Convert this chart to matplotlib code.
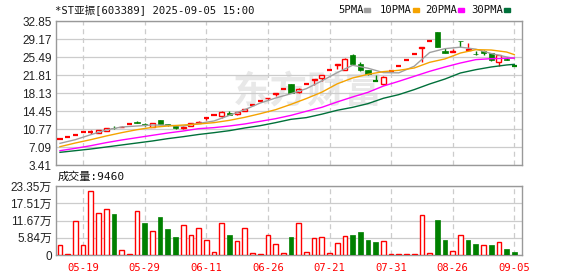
import numpy as np
import matplotlib
matplotlib.use("Agg")
import matplotlib.pyplot as plt

# daily candles, index 0 = 05-14 ... 59 = 09-05
opens = [8.73, 9.17, 9.62, 10.10, 10.10, 9.95, 10.43, 11.05, 11.20, 11.75,
         12.30, 11.80, 11.25, 12.60, 11.70, 11.30, 11.00, 11.38, 12.00, 12.90,
         13.70, 13.40, 14.10, 13.77, 14.38, 15.65, 16.45, 17.05, 18.00, 19.00,
         20.00, 18.25, 19.95, 20.85, 21.20, 22.90, 23.90, 22.90, 26.00, 23.99,
         22.75, 20.70, 19.90, 22.58, 23.72, 24.90, 26.15, 27.40, 28.83, 30.50,
         26.70, 26.60, 28.80, 26.90, 26.10, 26.75, 26.30, 24.40, 25.15, 23.70]
highs = [8.73, 9.17, 9.62, 10.10, 10.50, 10.64, 11.05, 11.45, 11.30, 11.75,
         12.45, 11.90, 12.00, 12.65, 11.80, 11.35, 11.30, 11.95, 12.35, 12.95,
         13.70, 14.45, 14.50, 14.30, 14.95, 15.65, 16.45, 17.20, 18.15, 19.00,
         20.00, 19.10, 19.95, 20.95, 21.85, 22.90, 24.05, 25.20, 26.05, 24.47,
         22.80, 21.75, 21.55, 22.58, 23.72, 24.90, 26.15, 27.46, 28.83, 30.50,
         27.25, 27.15, 28.85, 28.40, 26.70, 26.85, 26.35, 25.85, 25.40, 23.70]
lows = [8.73, 9.17, 9.45, 10.10, 9.70, 9.90, 10.40, 10.70, 11.15, 11.75,
        11.90, 11.40, 11.20, 11.80, 11.30, 10.85, 10.85, 11.35, 11.95, 12.55,
        13.70, 13.10, 13.55, 13.70, 14.35, 15.65, 16.45, 16.60, 17.60, 19.00,
        18.10, 18.20, 19.95, 19.75, 20.60, 22.90, 23.00, 22.80, 23.95, 22.63,
        21.90, 20.60, 19.85, 22.58, 23.72, 24.90, 26.15, 24.55, 28.83, 27.45,
        26.30, 26.55, 27.50, 26.85, 26.00, 25.90, 24.75, 23.75, 24.85, 23.70]
closes = [8.73, 9.17, 9.62, 10.10, 10.10, 10.60, 11.00, 10.95, 11.28, 11.75,
          11.95, 11.55, 11.93, 11.86, 11.50, 10.90, 11.10, 11.93, 12.30, 12.95,
          13.70, 14.25, 13.60, 14.25, 14.90, 15.65, 16.45, 17.15, 18.10, 19.00,
          18.15, 19.05, 19.95, 20.95, 21.80, 22.90, 24.05, 25.15, 24.00, 22.90,
          21.95, 20.65, 21.50, 22.58, 23.72, 24.90, 26.15, 27.46, 28.83, 27.50,
          26.35, 26.75, 28.70, 27.05, 26.03, 26.30, 24.80, 25.80, 24.95, 23.70]
# volume in 万 shares
volumes = [3.3, 0.3, 11.5, 3.3, 21.6, 14.2, 15.4, 14.0, 1.6, 0.2,
           14.9, 10.9, 8.1, 12.9, 8.8, 6.1, 10.1, 6.8, 9.0, 5.1,
           0.9, 10.7, 6.8, 4.7, 9.0, 0.7, 0.3, 6.6, 3.6, 0.7,
           6.1, 10.7, 0.9, 5.6, 6.0, 0.7, 3.9, 6.3, 6.8, 7.8,
           5.1, 4.4, 4.7, 0.2, 0.2, 0.2, 0.2, 13.4, 0.7, 11.8,
           5.1, 1.2, 6.6, 5.1, 3.7, 3.3, 3.4, 4.4, 2.0, 0.946]

# moving averages (every 2nd bar + last)
ma_idx = list(range(0, 60, 2)) + [59]
ma5 = [7.84, 8.59, 9.61, 10.57, 11.18, 11.38, 11.59, 11.52, 11.38, 11.90,
       12.41, 13.56, 14.72, 16.08, 17.10, 17.99, 19.02, 20.60, 22.30, 23.80,
       23.20, 22.30, 22.25, 23.60, 26.40, 27.20, 27.50, 27.10, 26.20, 25.50, 25.20]
ma10 = [7.16, 7.91, 8.59, 9.34, 10.02, 10.63, 11.11, 11.38, 11.59, 11.79,
        12.07, 12.54, 13.16, 13.90, 14.72, 15.81, 17.00, 18.30, 20.00, 21.20,
        21.95, 22.50, 22.77, 23.24, 24.40, 25.10, 26.30, 26.99, 26.92, 26.51, 25.97]
ma20 = [6.34, 6.82, 7.36, 7.98, 8.52, 9.00, 9.48, 9.95, 10.36, 10.84,
        11.05, 11.39, 11.80, 12.34, 12.88, 13.56, 14.40, 15.20, 16.30, 17.32,
        18.27, 19.55, 20.52, 21.54, 22.56, 23.45, 24.26, 24.95, 25.15, 25.22, 25.29]
ma30 = [6.00, 6.34, 6.68, 7.09, 7.50, 7.91, 8.32, 8.80, 9.20, 9.65,
        10.02, 10.43, 10.98, 11.45, 12.07, 12.75, 13.10, 13.80, 14.60, 15.20,
        15.96, 17.05, 17.80, 18.82, 19.97, 20.99, 22.22, 22.90, 23.45, 23.86, 23.99]

date_idx = [3, 11, 19, 27, 35, 43, 51, 59]
date_lab = ["05-19", "05-29", "06-11", "06-26", "07-21", "07-31", "08-26", "09-05"]
price_ticks = [3.41, 7.09, 10.77, 14.45, 18.13, 21.81, 25.49, 29.17, 32.85]
vol_ticks = [0, 5.84, 11.67, 17.51, 23.35]
vol_labels = ["0", "5.84万", "11.67万", "17.51万", "23.35万"]

RED = "#ff0000"
GREEN = "#008000"
GRID = "#cccccc"
BORDER = "#999999"
num_font = ["Liberation Sans", "Noto Sans CJK SC"]
mono_font = ["DejaVu Sans Mono", "Noto Sans CJK SC"]

fig = plt.figure(figsize=(5.78, 2.76), dpi=100)
ax = fig.add_axes([56 / 578, 1 - 165 / 276, 466 / 578, 144 / 276])
axv = fig.add_axes([56 / 578, 1 - 255 / 276, 466 / 578, 69 / 276])

x = np.arange(len(closes))
o = np.array(opens); h = np.array(highs); l = np.array(lows); c = np.array(closes)
prev = np.concatenate([[c[0]], c[:-1]])
up_day = c >= prev  # vs previous close
cand_red = np.where(c > o, True, np.where(c < o, False, up_day))
xlim = (-0.52, 60.0)

for a in (ax, axv):
    a.set_xlim(*xlim)
    for s in a.spines.values():
        s.set_color(BORDER)
        s.set_linewidth(1)
    a.set_xticks(date_idx)
    a.tick_params(length=0)
    a.grid(axis="x", color=GRID, linestyle=(0, (4, 3)), linewidth=0.9)
    a.set_axisbelow(True)

# price panel
ax.set_ylim(price_ticks[0], price_ticks[-1])
ax.set_yticks(price_ticks)
ax.set_yticklabels([f"{t:.2f}" for t in price_ticks], fontsize=8.5,
                   family=num_font, color="#222222")
ax.set_xticklabels([])
ax.tick_params(axis="y", pad=3)
ax.grid(axis="y", color=GRID, linestyle="-", linewidth=0.9)

# faint watermark
ax.text(0.54, 0.5, "东方财富", transform=ax.transAxes, fontsize=27,
        fontweight="bold", color="#e8e8e8", family=mono_font,
        ha="center", va="center", zorder=0.5)

w = 0.66
for i in x:
    col = RED if cand_red[i] else GREEN
    ax.vlines(i, l[i], h[i], color=col, linewidth=1, zorder=3)
    lo, hi = min(o[i], c[i]), max(o[i], c[i])
    if hi - lo < 0.06:
        ax.hlines((lo + hi) / 2, i - w / 2, i + w / 2, color=col, linewidth=1.6, zorder=4)
    elif cand_red[i]:
        ax.bar(i, hi - lo, bottom=lo, width=w, facecolor="white",
               edgecolor=col, linewidth=1, zorder=4)
    else:
        ax.bar(i, hi - lo, bottom=lo, width=w, facecolor=col,
               edgecolor=col, linewidth=0.5, zorder=4)

ax.plot(ma_idx, ma5, color="#a0a0a0", linewidth=1, zorder=5)
ax.plot(ma_idx, ma10, color="#f5a300", linewidth=1, zorder=5)
ax.plot(ma_idx, ma20, color="#ff00ff", linewidth=1, zorder=5)
ax.plot(ma_idx, ma30, color="#00703a", linewidth=1, zorder=5)

# volume panel
axv.set_ylim(0, vol_ticks[-1])
axv.set_yticks(vol_ticks)
axv.set_yticklabels(vol_labels, fontsize=8.5, family=num_font, color="#222222")
axv.tick_params(axis="y", pad=3)
axv.grid(axis="y", color=GRID, linestyle="-", linewidth=0.9)
axv.set_xticklabels(date_lab, fontsize=7.6, family=mono_font, color=RED)
axv.tick_params(axis="x", pad=6)
for i in x:
    if up_day[i]:
        axv.bar(i, volumes[i], width=0.62, facecolor="white", edgecolor=RED,
                linewidth=1, zorder=3)
    else:
        axv.bar(i, volumes[i], width=0.62, facecolor=GREEN, edgecolor=GREEN,
                linewidth=0.5, zorder=3)

# header texts
fig.text(55 / 578, 1 - 10 / 276, "*ST亚振[603389] 2025-09-05 15:00", fontsize=7.6,
         family=mono_font, ha="left", va="center", color="#111111")
legend = [("5PMA", 338, "#a0a0a0"), ("10PMA", 380, "#f5a300"),
          ("20PMA", 425, "#ff00ff"), ("30PMA", 471, "#00703a")]
for name, px, col in legend:
    fig.text(px / 578, 1 - 10 / 276, name, fontsize=7.6, family=mono_font,
             ha="left", va="center", color="#111111")
    sq = px + len(name) * 6.3 + 1
    fig.patches.append(plt.Rectangle((sq / 578, 1 - 12 / 276), 6 / 578, 4 / 276,
                                     transform=fig.transFigure, color=col))
fig.text(58 / 578, 1 - 177 / 276, "成交量:9460", fontsize=8, family=mono_font,
         ha="left", va="center", color="#111111")

fig.savefig("out.png", dpi=100)
